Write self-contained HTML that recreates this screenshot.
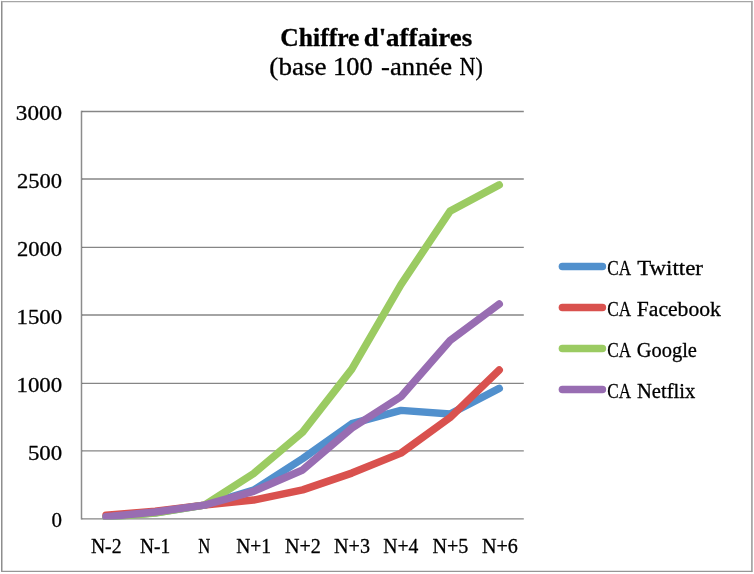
<!DOCTYPE html>
<html lang="fr">
<head>
<meta charset="utf-8">
<title>Chiffre d'affaires</title>
<style>
html,body{margin:0;padding:0;background:#fff;}
body{width:754px;height:574px;overflow:hidden;}
svg{display:block;will-change:transform;}
text{font-family:'Liberation Serif', serif;fill:#000;stroke:#000;stroke-width:0.3px;stroke-linejoin:round;}
</style>
</head>
<body>
<svg width="754" height="574" viewBox="0 0 754 574">
<rect x="0" y="0" width="754" height="574" fill="#fff"/>
<g fill="none" stroke-linecap="round">
<line x1="1.75" y1="1.6" x2="1.75" y2="571.3" stroke="#8E8E8E" stroke-width="1.5"/>
<line x1="1.75" y1="1.6" x2="751.9" y2="1.6" stroke="#A6A6A6" stroke-width="1.3"/>
<line x1="751.9" y1="1.6" x2="751.9" y2="571.3" stroke="#A8A8A8" stroke-width="1.8"/>
<line x1="1.75" y1="571.35" x2="751.9" y2="571.35" stroke="#969696" stroke-width="1.3"/>
</g>
<g stroke="#868686" stroke-width="1.3" fill="none">
<line x1="81.50" y1="518.90" x2="523.80" y2="518.90"/>
<line x1="81.50" y1="450.90" x2="523.80" y2="450.90"/>
<line x1="81.50" y1="383.40" x2="523.80" y2="383.40"/>
<line x1="81.50" y1="315.00" x2="523.80" y2="315.00"/>
<line x1="81.50" y1="247.45" x2="523.80" y2="247.45"/>
<line x1="81.50" y1="179.00" x2="523.80" y2="179.00"/>
<line x1="81.50" y1="111.50" x2="523.80" y2="111.50"/>
<line x1="81.50" y1="110.85" x2="81.50" y2="519.55" stroke="#9C9C9C" stroke-width="1.05"/>
<line x1="81.50" y1="110.85" x2="81.50" y2="519.55" stroke="#000" stroke-opacity="0.1" stroke-width="3"/>
</g>
<clipPath id="pc"><rect x="80" y="100" width="450" height="419.6"/></clipPath>
<g fill="none" stroke-width="7.5" stroke-linecap="round" stroke-linejoin="round" clip-path="url(#pc)">
<polyline stroke="#5190CD" points="106.07,517.07 155.22,512.73 204.36,505.13 253.51,490.20 302.65,458.57 351.79,423.69 400.94,410.38 450.08,414.05 499.23,388.40"/>
<polyline stroke="#D9514E" points="106.07,515.31 155.22,511.23 204.36,505.13 253.51,500.10 302.65,489.92 351.79,473.09 400.94,453.14 450.08,417.58 499.23,370.07"/>
<polyline stroke="#9BCB62" points="106.07,517.34 155.22,513.00 204.36,505.13 253.51,473.64 302.65,432.10 351.79,369.12 400.94,284.56 450.08,211.13 499.23,184.93"/>
<polyline stroke="#986DB2" points="106.07,516.80 155.22,512.05 204.36,505.13 253.51,491.42 302.65,469.97 351.79,428.17 400.94,396.68 450.08,340.48 499.23,303.97"/>
</g>
<g class="t">
<text x="280.37" y="46.40" font-size="24.8" font-weight="bold" textLength="79.04" lengthAdjust="spacingAndGlyphs">Chiffre</text>
<text x="363.72" y="46.40" font-size="24.8" font-weight="bold" textLength="108.40" lengthAdjust="spacingAndGlyphs">d'affaires</text>
<text x="269.38" y="75.40" font-size="24.3" textLength="57.29" lengthAdjust="spacingAndGlyphs">(base</text>
<text x="333.02" y="75.40" font-size="24.3" textLength="39.64" lengthAdjust="spacingAndGlyphs">100</text>
<text x="381.10" y="75.40" font-size="24.3" textLength="71.06" lengthAdjust="spacingAndGlyphs">-année</text>
<text x="459.60" y="75.40" font-size="24.3" textLength="23.28" lengthAdjust="spacingAndGlyphs">N)</text>
</g>
<g class="t">
<text x="51.60" y="527.40" font-size="20.8" textLength="10.50" lengthAdjust="spacingAndGlyphs">0</text>
<text x="27.90" y="459.53" font-size="20.8" textLength="34.23" lengthAdjust="spacingAndGlyphs">500</text>
<text x="16.50" y="391.67" font-size="20.8" textLength="45.63" lengthAdjust="spacingAndGlyphs">1000</text>
<text x="16.50" y="323.80" font-size="20.8" textLength="45.63" lengthAdjust="spacingAndGlyphs">1500</text>
<text x="17.00" y="255.93" font-size="20.8" textLength="45.13" lengthAdjust="spacingAndGlyphs">2000</text>
<text x="17.00" y="188.07" font-size="20.8" textLength="45.13" lengthAdjust="spacingAndGlyphs">2500</text>
<text x="15.89" y="120.20" font-size="20.8" textLength="46.26" lengthAdjust="spacingAndGlyphs">3000</text>
</g>
<g class="t">
<text x="90.90" y="553.20" font-size="20.8" textLength="30.58" lengthAdjust="spacingAndGlyphs">N-2</text>
<text x="140.10" y="553.20" font-size="20.8" textLength="30.17" lengthAdjust="spacingAndGlyphs">N-1</text>
<text x="198.30" y="553.20" font-size="20.8" textLength="12.02" lengthAdjust="spacingAndGlyphs">N</text>
<text x="236.20" y="553.20" font-size="20.8" textLength="34.87" lengthAdjust="spacingAndGlyphs">N+1</text>
<text x="285.00" y="553.20" font-size="20.8" textLength="35.88" lengthAdjust="spacingAndGlyphs">N+2</text>
<text x="334.10" y="553.20" font-size="20.8" textLength="35.88" lengthAdjust="spacingAndGlyphs">N+3</text>
<text x="383.30" y="553.20" font-size="20.8" textLength="35.13" lengthAdjust="spacingAndGlyphs">N+4</text>
<text x="432.40" y="553.20" font-size="20.8" textLength="35.99" lengthAdjust="spacingAndGlyphs">N+5</text>
<text x="482.00" y="553.20" font-size="20.8" textLength="35.88" lengthAdjust="spacingAndGlyphs">N+6</text>
</g>
<g class="t">
<line x1="562.4" y1="266.60" x2="602.4" y2="266.60" stroke="#5190CD" stroke-width="7.5" stroke-linecap="round"/>
<text x="607.20" y="275.10" font-size="20.8" textLength="23.82" lengthAdjust="spacingAndGlyphs">CA</text>
<text x="637.20" y="275.10" font-size="20.8" textLength="65.72" lengthAdjust="spacingAndGlyphs">Twitter</text>
<line x1="562.4" y1="307.60" x2="602.4" y2="307.60" stroke="#D9514E" stroke-width="7.5" stroke-linecap="round"/>
<text x="607.20" y="316.10" font-size="20.8" textLength="23.82" lengthAdjust="spacingAndGlyphs">CA</text>
<text x="636.80" y="316.10" font-size="20.8" textLength="84.07" lengthAdjust="spacingAndGlyphs">Facebook</text>
<line x1="562.4" y1="348.60" x2="602.4" y2="348.60" stroke="#9BCB62" stroke-width="7.5" stroke-linecap="round"/>
<text x="607.20" y="357.10" font-size="20.8" textLength="23.82" lengthAdjust="spacingAndGlyphs">CA</text>
<text x="636.80" y="357.10" font-size="20.8" textLength="60.13" lengthAdjust="spacingAndGlyphs">Google</text>
<line x1="562.4" y1="389.60" x2="602.4" y2="389.60" stroke="#986DB2" stroke-width="7.5" stroke-linecap="round"/>
<text x="607.20" y="398.10" font-size="20.8" textLength="23.82" lengthAdjust="spacingAndGlyphs">CA</text>
<text x="637.00" y="398.10" font-size="20.8" textLength="58.21" lengthAdjust="spacingAndGlyphs">Netflix</text>
</g>
</svg>
</body>
</html>
